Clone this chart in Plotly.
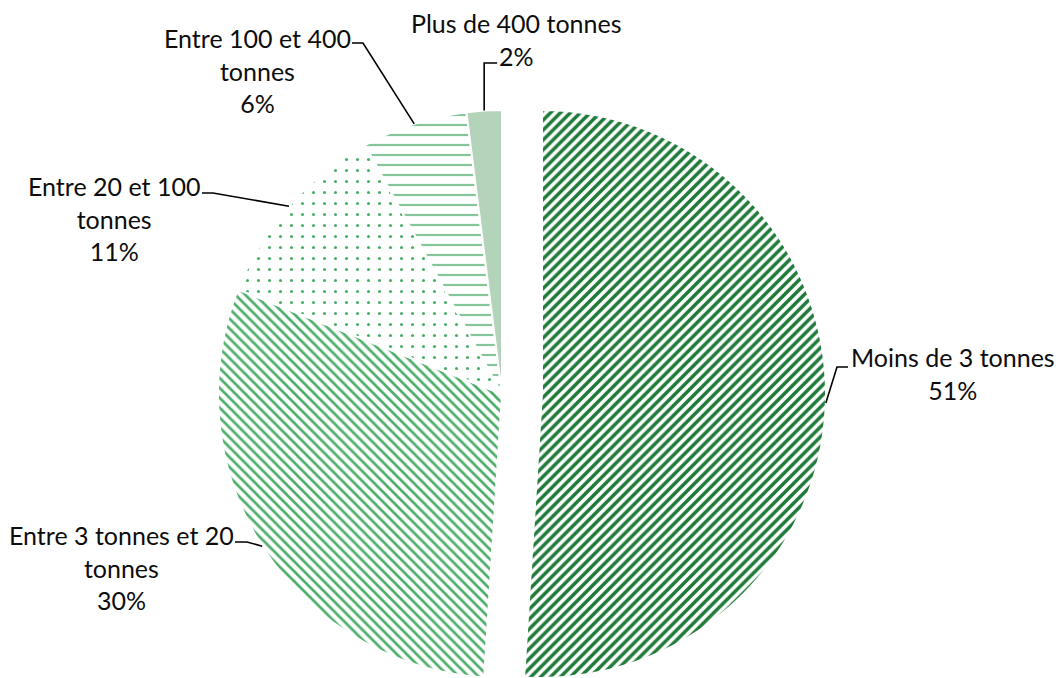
import math
import plotly.graph_objects as go

# Share of farms by annual volume class (%)
categories = [
    "Moins de 3 tonnes",
    "Entre 3 tonnes et 20 tonnes",
    "Entre 20 et 100 tonnes",
    "Entre 100 et 400 tonnes",
    "Plus de 400 tonnes",
]
shares = [51, 30, 11, 6, 2]
label_lines = [
    "Moins de 3 tonnes",
    "Entre 3 tonnes et 20<br>tonnes",
    "Entre 20 et 100<br>tonnes",
    "Entre 100 et 400<br>tonnes",
    "Plus de 400 tonnes",
]

W, H = 1061, 678
CX, CY, R = 502, 394, 284      # pie centre and radius, pixels
PULL_PX = 40                   # outward offset of the first slice

fg_colors = ["#1f7a3a", "#4dae6b", "#47ad66", "#86c49a", "#b3d3ba"]
pat_shapes = ["/", "\\", ".", "-", ""]
pat_sizes = [7, 7, 11, 10, 8]
pat_solidity = [0.5, 0.38, 0.06, 0.22, 0.3]

# label block centres and leader-line knees / tails, pixels
label_pos = [(953, 373), (121, 567), (114, 218), (257, 70), (516, 40)]
leader_knee = [(837, 367), (247, 542), (213, 193), (363, 43), None]
leader_tail = [(848, 367), (235, 542), (202, 193), (352, 43), None]


def px(x, y):
    return x / W, 1 - y / H


def domain(cx, cy, r):
    return dict(x=[(cx - r) / W, (cx + r) / W],
                y=[1 - (cy + r) / H, 1 - (cy - r) / H])


def pie_part(show, cx):
    clear = "rgba(0,0,0,0)"
    return go.Pie(
        labels=categories,
        values=shares,
        sort=False,
        direction="clockwise",
        rotation=0,
        textinfo="none",
        hoverinfo="label+percent",
        showlegend=False,
        domain=domain(cx, CY, R),
        marker=dict(
            colors=[fg_colors[i] if i in show else clear for i in range(len(shares))],
            line=dict(color="white",
                      width=[2 if i in show else 0 for i in range(len(shares))]),
            pattern=dict(
                shape=[pat_shapes[i] if i in show else "" for i in range(len(shares))],
                fgcolor=[fg_colors[i] if i in show else clear for i in range(len(shares))],
                bgcolor=["white" if (i in show and pat_shapes[i]) else
                         (fg_colors[i] if i in show else clear) for i in range(len(shares))],
                size=pat_sizes,
                solidity=pat_solidity,
                fillmode="replace",
            ),
        ),
    )


# slice mid-angles (clockwise from 12 o'clock)
total = sum(shares)
mid_angles = []
acc = 0
for v in shares:
    mid_angles.append(360 * (acc + v / 2) / total)
    acc += v

fig = go.Figure()
fig.add_trace(pie_part({1, 2, 3, 4}, CX))
bis = math.radians(mid_angles[0])
off_x = PULL_PX * math.sin(bis)
fig.add_trace(pie_part({0}, CX + off_x))

shapes = []
annotations = []
for i, v in enumerate(shares):
    a = math.radians(mid_angles[i])
    cx = CX + (off_x if i == 0 else 0)
    ax_, ay_ = cx + R * math.sin(a), CY - R * math.cos(a)
    if leader_knee[i] is None:
        knee = (ax_, 63)
        tail = (ax_ + 13, 63)
    else:
        knee, tail = leader_knee[i], leader_tail[i]
    p0, p1, p2 = px(ax_, ay_), px(*knee), px(*tail)
    shapes.append(dict(
        type="path", xref="paper", yref="paper",
        path=f"M{p0[0]},{p0[1]} L{p1[0]},{p1[1]} L{p2[0]},{p2[1]}",
        line=dict(color="#000000", width=1.6),
    ))
    lx, ly = px(*label_pos[i])
    annotations.append(dict(
        x=lx, y=ly, xref="paper", yref="paper",
        text=f"{label_lines[i]}<br>{v}%",
        showarrow=False, xanchor="center", yanchor="middle", align="center",
        font=dict(family="Lato, 'Open Sans', sans-serif", size=25, color="#0d0d0d"),
    ))

fig.update_layout(
    width=W, height=H,
    margin=dict(l=0, r=0, t=0, b=0),
    paper_bgcolor="white",
    plot_bgcolor="white",
    shapes=shapes,
    annotations=annotations,
)

fig.write_html("out.html")
